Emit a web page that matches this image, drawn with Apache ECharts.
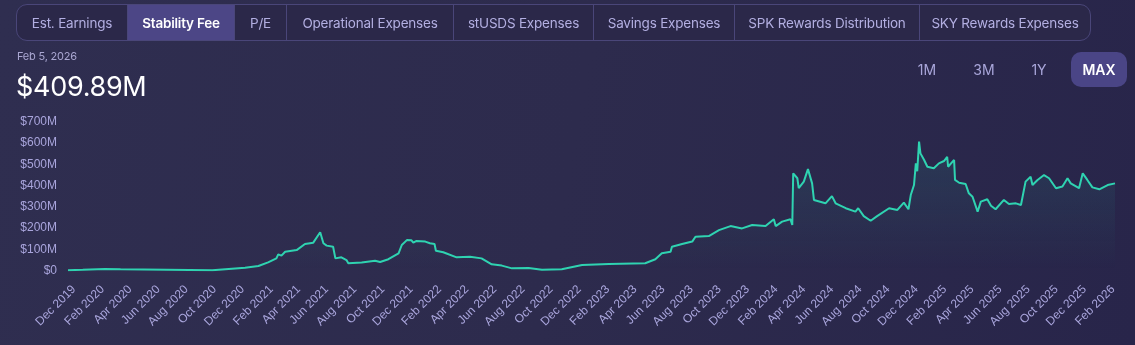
<!DOCTYPE html>
<html>
<head>
<meta charset="utf-8">
<script src="https://cdn.jsdelivr.net/npm/echarts@6/dist/echarts.min.js"></script>
<style>
  html, body { margin: 0; padding: 0; }
  body {
    width: 1135px; height: 345px; overflow: hidden; position: relative;
    background: linear-gradient(100deg, #2f2e50 0%, #2d2b4d 50%, #28254a 100%);
    font-family: Inter, "Noto Sans", sans-serif;
  }
  #chart { position: absolute; left: 0; top: 0; width: 1135px; height: 345px; }
  .tabs {
    position: absolute; left: 16px; top: 4px; height: 35px; width: 1073px;
    border: 1px solid #4a4679; border-radius: 11px; overflow: hidden;
    display: flex; background: #2b2849;
  }
  .tab {
    height: 100%; display: flex; align-items: center; justify-content: center;
    font-size: 13.5px; color: #b3afe2; letter-spacing: -0.2px; box-sizing: border-box;
    border-left: 1px solid #4a4679; white-space: nowrap;
  }
  .tab:first-child { border-left: none; }
  .tab.active { background: #4c4686; color: #ffffff; font-weight: 600; }
  .date { position: absolute; left: 17px; top: 49px; font-size: 11px; color: #aaa7d2; letter-spacing: -0.2px; }
  .value { position: absolute; left: 16px; top: 70px; font-size: 27px; color: #ffffff; letter-spacing: -0.3px; }
  .range { position: absolute; top: 52px; height: 35px; display: flex; align-items: center; justify-content: center;
    font-size: 14px; color: #a9a6da; }
  .range.active { background: #4a4586; color: #ffffff; border-radius: 10px; font-weight: 600; }
</style>
</head>
<body>
<div id="chart"></div>
<div class="tabs" id="tabs"></div>
<div class="date">Feb 5, 2026</div>
<div class="value">$409.89M</div>
<div id="ranges"></div>
<script>
// Metric tabs and range buttons
const tabNames = ['Est. Earnings', 'Stability Fee', 'P/E', 'Operational Expenses', 'stUSDS Expenses',
  'Savings Expenses', 'SPK Rewards Distribution', 'SKY Rewards Expenses'];
const tabWidths = [110, 107, 52, 167, 140, 141, 185, 171];
const activeTab = 'Stability Fee';
const rangeNames = ['1M', '3M', '1Y', 'MAX'];
const rangeLefts = [910, 966, 1022, 1071];
const rangeWidths = [34, 36, 34, 56];
const activeRange = 'MAX';

// Daily stability fee (annualised, $M)
const dates = ['2019-11-18','2019-12-20','2020-02-06','2020-03-11','2020-03-14','2020-09-26','2020-09-28','2020-12-06',
  '2021-01-04','2021-01-25','2021-02-12','2021-02-16','2021-02-23','2021-03-03','2021-03-28','2021-04-15','2021-05-03',
  '2021-05-18','2021-05-25','2021-06-01','2021-06-15','2021-06-20','2021-07-03','2021-07-14','2021-07-18','2021-08-16',
  '2021-09-14','2021-09-25','2021-10-13','2021-11-04','2021-11-11','2021-11-22','2021-12-02','2021-12-06','2021-12-13',
  '2022-01-01','2022-01-11','2022-01-21','2022-01-24','2022-02-09','2022-03-10','2022-04-08','2022-05-03','2022-05-25',
  '2022-06-16','2022-07-08','2022-08-13','2022-09-11','2022-10-24','2022-12-07','2023-02-03','2023-04-23','2023-05-15',
  '2023-05-29','2023-06-17','2023-06-20','2023-07-12','2023-08-03','2023-08-10','2023-09-08','2023-09-30','2023-10-25',
  '2023-11-19','2023-12-11','2024-01-09','2024-01-27','2024-01-31','2024-02-14','2024-03-03','2024-03-07','2024-03-09',
  '2024-03-18','2024-03-21','2024-04-01','2024-04-10','2024-04-19','2024-04-23','2024-05-18','2024-06-01','2024-06-09',
  '2024-07-01','2024-07-22','2024-07-28','2024-08-09','2024-08-24','2024-09-07','2024-10-03','2024-10-21','2024-11-04',
  '2024-11-14','2024-11-19','2024-11-26','2024-11-30','2024-12-03','2024-12-07','2024-12-10','2024-12-18','2024-12-25',
  '2025-01-08','2025-01-19','2025-01-30','2025-02-06','2025-02-08','2025-02-21','2025-02-23','2025-03-04','2025-03-18',
  '2025-03-25','2025-04-02','2025-04-13','2025-04-20','2025-05-04','2025-05-12','2025-05-22','2025-06-09','2025-06-20',
  '2025-07-05','2025-07-16','2025-07-26','2025-08-06','2025-08-10','2025-08-21','2025-09-04','2025-09-15','2025-09-30',
  '2025-10-14','2025-10-25','2025-11-01','2025-11-19','2025-11-27','2025-12-07','2025-12-18','2026-01-02','2026-01-20',
  '2026-02-05'];
const fees = [1, 3, 7, 6, 1, 1, 7, 13,
  21, 38, 57, 76, 70, 88, 96, 125, 131,
  180, 128, 117, 112, 57, 62, 49, 34, 38,
  46, 40, 53, 81, 120, 143, 142, 131, 139,
  136, 128, 125, 93, 86, 62, 65, 57, 29,
  23, 10, 12, 4, 6, 26, 31, 34, 53,
  81, 88, 112, 125, 136, 159, 162, 190, 209,
  198, 214, 209, 241, 209, 230, 241, 214, 457,
  434, 387, 418, 477, 410, 332, 316, 350, 316,
  293, 277, 293, 256, 234, 256, 293, 285, 319,
  288, 355, 402, 504, 467, 606, 551, 520, 488,
  481, 504, 515, 535, 488, 520, 426, 413, 407,
  363, 347, 277, 324, 335, 305, 288, 332, 313,
  316, 308, 418, 441, 402, 426, 449, 434, 387,
  395, 434, 410, 387, 457, 426, 391, 382, 402,
  409.89];

// X-axis tick months (first of every second month)
const tickMonths = ['2019-12','2020-02','2020-04','2020-06','2020-08','2020-10','2020-12','2021-02','2021-04','2021-06',
  '2021-08','2021-10','2021-12','2022-02','2022-04','2022-06','2022-08','2022-10','2022-12','2023-02','2023-04','2023-06',
  '2023-08','2023-10','2023-12','2024-02','2024-04','2024-06','2024-08','2024-10','2024-12','2025-02','2025-04','2025-06',
  '2025-08','2025-10','2025-12','2026-02'];
const monthNames = ['Jan','Feb','Mar','Apr','May','Jun','Jul','Aug','Sep','Oct','Nov','Dec'];
const yTicks = [0, 100, 200, 300, 400, 500, 600, 700];

// Build the header controls
const tabsEl = document.getElementById('tabs');
tabNames.forEach((n, i) => {
  const d = document.createElement('div');
  d.className = 'tab' + (n === activeTab ? ' active' : '');
  d.style.width = tabWidths[i] + 'px';
  d.textContent = n;
  tabsEl.appendChild(d);
});
const rangesEl = document.getElementById('ranges');
rangeNames.forEach((n, i) => {
  const d = document.createElement('div');
  d.className = 'range' + (n === activeRange ? ' active' : '');
  d.style.left = rangeLefts[i] + 'px';
  d.style.width = rangeWidths[i] + 'px';
  d.textContent = n;
  rangesEl.appendChild(d);
});

function ts(s) {
  const p = s.split('-').map(Number);
  return new Date(p[0], p[1] - 1, p[2] || 1).getTime();
}
const tickValues = tickMonths.map(ts);
const seriesData = dates.map((d, i) => [ts(d), fees[i]]);

const chart = echarts.init(document.getElementById('chart'), null, { renderer: 'canvas' });
chart.setOption({
  backgroundColor: 'transparent',
  animation: false,
  grid: { left: 68, right: 20, top: 121.7, bottom: 74.5, containLabel: false },
  xAxis: {
    // timestamps on a linear axis so the bi-monthly ticks can be placed exactly
    type: 'value',
    min: ts(dates[0]),
    max: ts(dates[dates.length - 1]),
    axisLine: { show: false },
    axisTick: { show: false },
    splitLine: { show: false },
    axisLabel: {
      customValues: tickValues,
      rotate: 45,
      margin: 17,
      color: '#a9a5dc',
      fontSize: 12,
      fontFamily: '"Liberation Sans", Arial, sans-serif',
      formatter: v => { const d = new Date(v); return monthNames[d.getMonth()] + ' ' + d.getFullYear(); }
    }
  },
  yAxis: {
    type: 'value',
    min: yTicks[0],
    max: yTicks[yTicks.length - 1],
    interval: 100,
    axisLine: { show: false },
    axisTick: { show: false },
    splitLine: { show: false },
    axisLabel: {
      margin: 11,
      color: '#a9a5dc',
      fontSize: 12,
      fontFamily: '"Liberation Sans", Arial, sans-serif',
      formatter: v => v === 0 ? '$0' : '$' + v + 'M'
    }
  },
  series: [{
    type: 'line',
    data: seriesData,
    showSymbol: false,
    lineStyle: { color: '#2fd3b1', width: 2 },
    itemStyle: { color: '#2fd3b1' },
    areaStyle: {
      color: new echarts.graphic.LinearGradient(0, 0, 0, 1, [
        { offset: 0, color: 'rgba(47, 211, 177, 0.16)' },
        { offset: 1, color: 'rgba(47, 211, 177, 0)' }
      ])
    }
  }]
});
</script>
</body>
</html>
